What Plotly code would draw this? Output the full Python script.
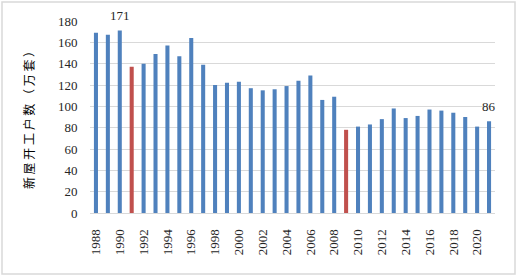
import plotly.graph_objects as go

years = list(range(1988, 2022))
values = [169, 167, 171, 137, 140, 149, 157, 147, 164, 139, 120, 122, 123, 117,
          115, 116, 119, 124, 129, 106, 109, 78, 81, 83, 88, 98, 89, 91, 97, 96,
          94, 90, 81, 86]
highlight_years = [1991, 2009]
label_years = [1990, 2021]
tick_years = list(range(1988, 2021, 2))
y_title = "新屋开工户数（万套）"

BLUE = "#4F81BD"
RED = "#C0504D"
colors = [RED if y in highlight_years else BLUE for y in years]

fig = go.Figure()
fig.add_trace(go.Bar(x=years, y=values, marker_color=colors, marker_line_width=0,
                     width=0.34, showlegend=False, hoverinfo="skip"))

serif = "Times New Roman"
for y, v in zip(years, values):
    if y in label_years:
        fig.add_annotation(x=y, y=v, text=str(v), showarrow=False, yshift=15,
                           font=dict(family=serif, size=13, color="#262626"))

L, R, T, B = 90, 24, 21, 67
W, H = 519, 280
pw, ph = W - L - R, H - T - B
fig.add_shape(type="rect", xref="paper", yref="paper",
              x0=(2 - L) / pw, x1=(515 - L) / pw,
              y0=(T + ph - 274) / ph, y1=(T + ph - 2) / ph,
              line=dict(color="#D9D9D9", width=1.5), fillcolor="rgba(0,0,0,0)", layer="below")

fig.update_layout(
    width=W, height=H, margin=dict(l=L, r=R, t=T, b=B, autoexpand=False),
    plot_bgcolor="white", paper_bgcolor="white",
    xaxis=dict(range=[1987.5, 2021.5], tickmode="array", tickvals=tick_years,
               ticktext=[str(y) for y in tick_years], tickangle=-90,
               showgrid=False, showline=True, linecolor="#D9D9D9", linewidth=1,
               ticks="", ticklabelstandoff=10,
               tickfont=dict(family=serif, size=13, color="#262626")),
    yaxis=dict(range=[0, 180], dtick=20, showgrid=True, gridcolor="#D9D9D9",
               gridwidth=1, zeroline=False, showline=False,
               ticks="outside", ticklen=9, tickcolor="rgba(0,0,0,0)",
               tickfont=dict(family=serif, size=13, color="#262626"),
               title=dict(text=" ".join(y_title), standoff=20,
                          font=dict(family="Noto Sans CJK SC", size=12, color="#000000"))),
    bargap=0.66,
)

fig.write_html("out.html", config={"displayModeBar": False},
               post_script="document.body.style.margin='0';document.body.style.padding='0';")
